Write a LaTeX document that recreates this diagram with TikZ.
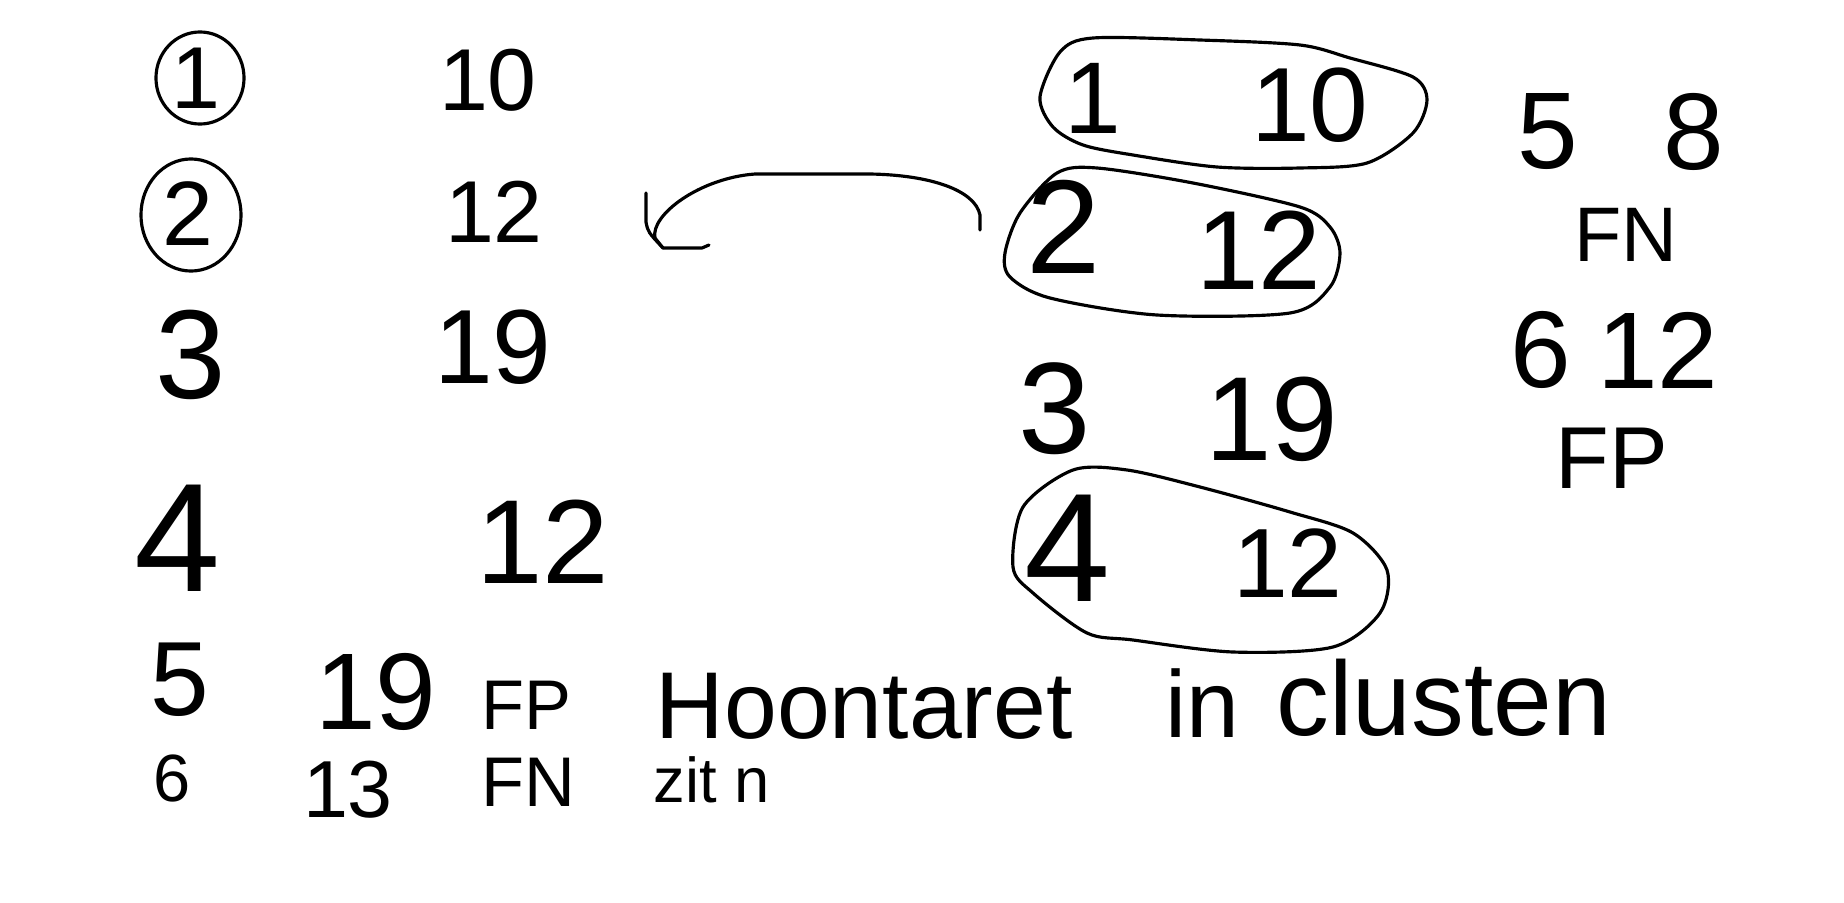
\documentclass[tikz,border=0pt]{standalone}
\usepackage{fontspec}
\setmainfont{Liberation Sans}
\usetikzlibrary{calc}

\tikzset{
  sketch/.style={line width=0.9pt, line cap=round, line join=round},
  fs/.style={inner sep=0pt, font=\fontsize{#1}{#1}\selectfont},
}

\begin{document}
\begin{tikzpicture}[x=0.01cm, y=-0.01cm]
      \useasboundingbox (0, 0) rectangle (1844, 903);

      % left list
      \node[fs=25] (lOne) at (196, 78) {1};
      \node[fs=25] (lTen) at (488, 80) {10};
      \node[fs=26] (lTwo) at (188, 214) {2};
      \node[fs=25] (lTwelve) at (494, 212) {12};
      \node[fs=36] (lThree) at (191, 355) {3};
      \node[fs=30] (lNineteen) at (493, 347) {19};
      \node[fs=44] (lFour) at (178, 538) {4};
      \node[fs=34] (lTwelveB) at (543, 542) {12};
      \node[fs=30] (lFive) at (180, 680) {5};
      \node[fs=31] (lNineteenB) at (376, 692) {19};
      \node[fs=20] (lFP) at (526, 705) {FP};
      \node[fs=19] (lSix) at (172, 778) {6};
      \node[fs=23] (lThirteen) at (348, 790) {13};
      \node[fs=20] (lFN) at (528, 782) {FN};

      \draw[sketch] (lOne) ++(4, 0) ellipse [x radius=0.44cm, y radius=0.46cm];
      \draw[sketch] (lTwo) ++(3, 1) ellipse [x radius=0.50cm, y radius=0.56cm];

      % note below
      \node[fs=27, anchor=base west] (note) at (655, 738) {Hoontaret};
      \node[fs=27, anchor=base west] (noteIn) at (1165, 737) {in};
      \node[fs=30, anchor=base west] (noteB) at (1276, 735) {clusten};
      \node[fs=18, anchor=base west] (zit) at (653, 802) {zit n};

      % clusters
      \node[fs=29] (rOne) at (1093, 98) {1};
      \node[fs=30] (rTen) at (1310, 105) {10};
      \node[fs=38] (rTwo) at (1064, 227) {2};
      \node[fs=32] (rTwelve) at (1259, 250) {12};
      \node[fs=37] (rThree) at (1055, 409) {3};
      \node[fs=34] (rNineteen) at (1272, 419) {19};
      \node[fs=44] (rFour) at (1068, 548) {4};
      \node[fs=28] (rTwelveB) at (1288, 563) {12};

      \draw[sketch] plot[smooth cycle] coordinates {(1040, 97) (1053, 127)
        (1083, 145) (1133, 155) (1217, 167) (1300, 168) (1367, 163)
        (1413, 133) (1427, 100) (1413, 77) (1350, 58) (1300, 45)
        (1200, 40) (1093, 38) (1060, 52)};
      \draw[sketch] plot[smooth cycle] coordinates {(1005, 253) (1010, 277)
        (1050, 298) (1157, 315) (1290, 313) (1330, 287) (1340, 253)
        (1330, 227) (1300, 207) (1193, 183) (1097, 168) (1057, 173)
        (1020, 213)};
      \draw[sketch] plot[smooth cycle] coordinates {(1013, 567) (1033, 593)
        (1087, 633) (1133, 640) (1233, 652) (1333, 647) (1380, 613)
        (1387, 570) (1353, 533) (1290, 512) (1200, 487) (1127, 470)
        (1073, 470) (1023, 507)};

      % counts
      \node[fs=31] (rFive) at (1548, 132) {5};
      \node[fs=31] (rEight) at (1694, 132) {8};
      \node[fs=22] (rFN) at (1626, 235) {FN};
      \node[fs=31] (rSix) at (1541, 350) {6};
      \node[fs=31] (rTwelveC) at (1658, 350) {12};
      \node[fs=25] (rFP) at (1612, 458) {FP};

      % hook back to the list
      \coordinate (hookStart) at (980, 230);
      \coordinate (hookTip) at (663, 248);
      \draw[sketch] (hookStart) -- (980, 215)
        .. controls (975, 190) and (930, 175) .. (870, 174) -- (755, 174)
        .. controls (700, 178) and (650, 215) .. (655, 238) -- (hookTip);
      \draw[sketch] (646, 193) -- (646, 222)
        .. controls (648, 232) .. (hookTip) -- (702, 248) -- (709, 245);
    \end{tikzpicture}
\end{document}
